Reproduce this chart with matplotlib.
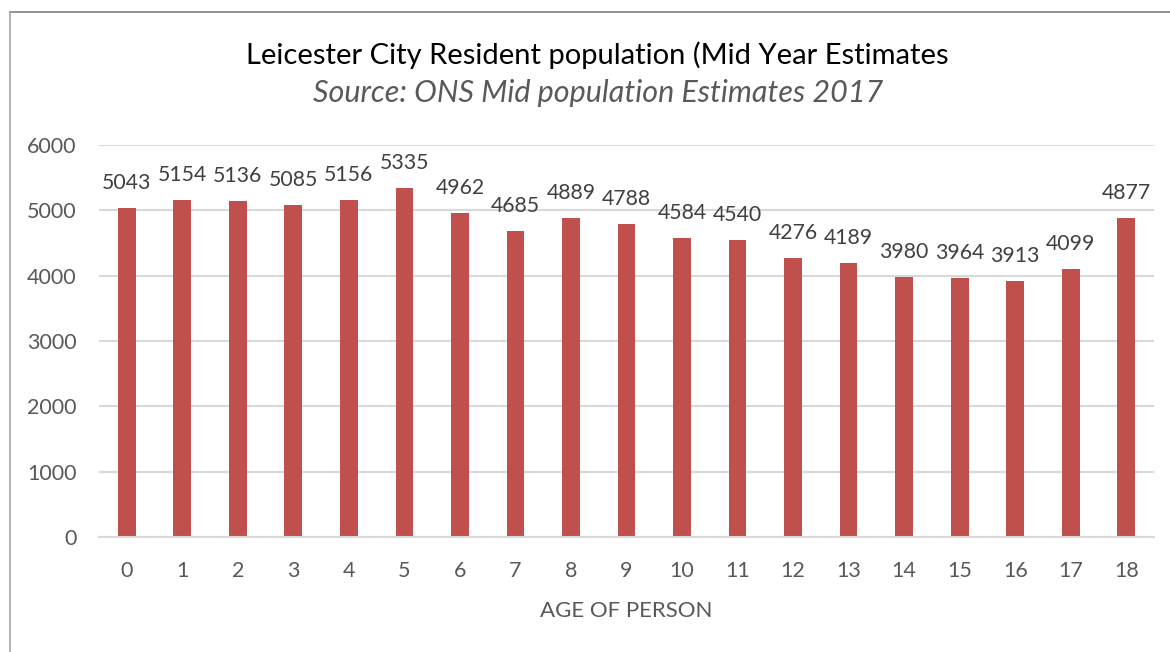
import matplotlib
matplotlib.use("Agg")
import matplotlib.pyplot as plt
from matplotlib.lines import Line2D

ages = [str(a) for a in range(19)]
population = [5043, 5154, 5136, 5085, 5156, 5335, 4962, 4685, 4889, 4788,
              4584, 4540, 4276, 4189, 3980, 3964, 3913, 4099, 4877]
y_ticks = [0, 1000, 2000, 3000, 4000, 5000, 6000]

title = "Leicester City Resident population (Mid Year Estimates"
subtitle = "Source: ONS Mid population Estimates 2017"
x_label = "AGE OF PERSON"

plt.rcParams['font.family'] = ['Lato', 'DejaVu Sans']

W, H = 1170, 652
fig = plt.figure(figsize=(W / 100, H / 100), dpi=100)
fig.patch.set_facecolor("white")

ax = fig.add_axes([99 / W, 1 - 537 / H, (1154 - 99) / W, (537 - 145) / H])

bar_color = "#C0504D"
text_gray = "#595959"
grid_gray = "#D9D9D9"

x = range(len(ages))
bars = ax.bar(x, population, width=0.32, color=bar_color, zorder=3)

for xi, v in zip(x, population):
    ax.annotate(str(v), (xi, v), xytext=(0, 18), textcoords="offset points",
                ha="center", va="center", fontsize=15.3, color="#404040")

ax.set_xlim(-0.5, len(ages) - 0.5)
ax.set_ylim(0, 6000)
ax.set_yticks(y_ticks)
ax.set_xticks(list(x))
ax.set_xticklabels(ages)
ax.tick_params(axis="both", length=0, labelsize=15.5, labelcolor=text_gray)
ax.tick_params(axis="y", pad=16)
ax.tick_params(axis="x", pad=17)

ax.grid(axis="y", color=grid_gray, linewidth=1.5, zorder=0)
ax.set_axisbelow(True)
for side in ["top", "right", "left"]:
    ax.spines[side].set_visible(False)
ax.spines["bottom"].set_color(grid_gray)
ax.spines["bottom"].set_linewidth(1.5)
ax.spines["bottom"].set_zorder(4)

ax.set_xlabel(x_label, fontsize=16, color=text_gray, labelpad=15)

fig.text(597 / W, 1 - 55 / H, title, ha="center", va="center",
         fontsize=21, color="black")
fig.text(598 / W, 1 - 93 / H, subtitle, ha="center", va="center",
         fontsize=22, color=text_gray, style="italic")

# outer frame edges (top and left)
fig.add_artist(Line2D([10 / W, 1.0], [1 - 12 / H, 1 - 12 / H],
                      transform=fig.transFigure, color="#7F7F7F", linewidth=1.2))
fig.add_artist(Line2D([10 / W, 10 / W], [0.0, 1 - 12 / H],
                      transform=fig.transFigure, color="#A6A6A6", linewidth=1.2))

fig.savefig("out.png", dpi=100, facecolor="white")
